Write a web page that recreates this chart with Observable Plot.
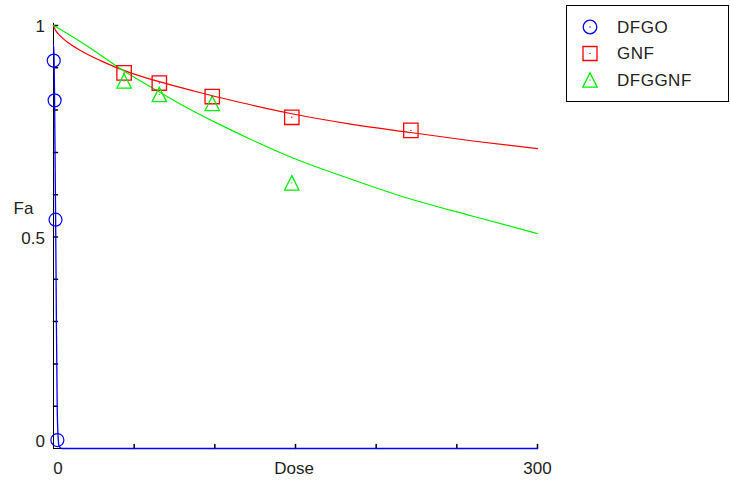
<!DOCTYPE html>
<html>
<head>
<meta charset="utf-8">
<script src="https://cdn.jsdelivr.net/npm/d3@7"></script>
<script src="https://cdn.jsdelivr.net/npm/@observablehq/plot@0.6"></script>
<style>
  body { margin: 0; background: #fff; }
  #chart { position: relative; width: 730px; height: 485px; }
  #legend { position: absolute; left: 566px; top: 5px; }
  svg text { font-family: "Liberation Sans", Arial, sans-serif; }
</style>
</head>
<body>
<div id="chart"></div>
<script>
// Observed data points (dose vs. fraction affected)
const dfgoDose = [0.15, 0.7, 1.25, 2.4];
const dfgoFa   = [0.917, 0.823, 0.541, 0.02];
const gnfDose  = [43.75, 65.6, 98.4, 147.7, 221.5];
const gnfFa    = [0.888, 0.864, 0.832, 0.783, 0.752];
const comboDose = [43.75, 65.6, 98.4, 147.7];
const comboFa   = [0.869, 0.837, 0.816, 0.628];

// Fitted dose-effect curves
const dfgoCurveDose = [0, 0.05, 0.3, 0.6, 1.0, 1.3, 1.8, 2.3, 2.8, 3.5, 5, 300];
const dfgoCurveFa   = [0.955, 0.955, 0.93, 0.85, 0.68, 0.55, 0.3, 0.1, 0.03, 0.005, 0, 0];
const gnfCurveDose = [0, 0.3, 1.2, 4.3, 8.5, 16.7, 29.1, 47.7, 69.4, 91.1, 115.9, 146.9, 184.1, 221.3, 260, 300];
const gnfCurveFa   = [1.0, 0.996, 0.989, 0.975, 0.961, 0.941, 0.917, 0.888, 0.863, 0.841, 0.818, 0.792, 0.767, 0.747, 0.727, 0.709];
const comboCurveDose = [0, 8.5, 25, 41.5, 60.1, 78.7, 103.5, 122.1, 146.9, 184.1, 215.1, 260, 300];
const comboCurveFa   = [1.0, 0.981, 0.941, 0.898, 0.855, 0.814, 0.765, 0.731, 0.689, 0.637, 0.597, 0.549, 0.508];

// Axis ticks and labels
const yTicks = [0.1, 0.2, 0.3, 0.4, 0.5, 0.6, 0.7, 0.8, 0.9, 1];
const xTicks = [50, 100, 150, 200, 250, 300];
const yLabels = [0.5, 1];
const seriesNames = ["DFGO", "GNF", "DFGGNF"];
const seriesColors = ["#0000ff", "#ff0000", "#00f000"];

const zip = (xs, ys) => xs.map((x, i) => ({x, y: ys[i]}));

// Marker shapes
const squareSym = {draw(ctx, size) {
  const r = Math.sqrt(size / Math.PI);
  ctx.moveTo(-r, -r); ctx.lineTo(r, -r); ctx.lineTo(r, r); ctx.lineTo(-r, r); ctx.closePath();
}};
const triSym = {draw(ctx, size) {
  const r = Math.sqrt(size / Math.PI);
  ctx.moveTo(0, -r); ctx.lineTo(r, r); ctx.lineTo(-r, r); ctx.closePath();
}};
const tickShape = {draw(ctx, l) { ctx.moveTo(0, 0); ctx.lineTo(0, -l); }};

const font = 17;

const chart = Plot.plot({
  width: 730,
  height: 485,
  marginLeft: 53,
  marginRight: 193,
  marginTop: 25,
  marginBottom: 37,
  x: {domain: [0, 300], axis: null},
  y: {domain: [0, 1], axis: null},
  style: {background: "#fff", fontFamily: "Liberation Sans, Arial, sans-serif", fontSize: "17px", color: "#000"},
  marks: [
    // axis lines
    Plot.ruleX([0], {y1: 0, y2: 1.005, stroke: "#000"}),
    Plot.ruleY([0], {x1: 0, x2: 300, stroke: "#000"}),
    // inward ticks
    Plot.vector(yTicks, {x: 0, y: d => d, length: 4, rotate: 90, anchor: "start", shape: tickShape, stroke: "#000"}),
    Plot.vector(xTicks, {x: d => d, y: 0, length: 4, rotate: 0, anchor: "start", shape: tickShape, stroke: "#000"}),
    // tick labels
    Plot.text(yLabels, {x: 0, y: d => d, text: d => String(d), textAnchor: "end", dx: -8.5, dy: 1.5, fontSize: font, fill: "#222"}),
    Plot.text([0], {x: 0, y: d => d, text: d => String(d), textAnchor: "end", dx: -8.5, dy: -7, fontSize: font, fill: "#222"}),
    Plot.text([0], {x: d => d, y: 0, text: d => String(d), dx: 4.5, dy: 20, fontSize: font, fill: "#222"}),
    Plot.text([300], {x: d => d, y: 0, text: d => String(d), dy: 20, fontSize: font, fill: "#222"}),
    // axis titles
    Plot.text(["Fa"], {frameAnchor: "left", text: d => d, textAnchor: "start", dx: -40, dy: -28.5, fontSize: font, fill: "#222"}),
    Plot.text(["Dose"], {frameAnchor: "bottom", text: d => d, dx: -1.5, dy: 25, fontSize: font, fill: "#222"}),
    // fitted curves
    Plot.line(zip(gnfCurveDose, gnfCurveFa), {x: "x", y: "y", stroke: seriesColors[1], strokeWidth: 1.2, curve: "monotone-x"}),
    Plot.line(zip(comboCurveDose, comboCurveFa), {x: "x", y: "y", stroke: seriesColors[2], strokeWidth: 1.2, curve: "monotone-x"}),
    Plot.line(zip(dfgoCurveDose, dfgoCurveFa), {x: "x", y: "y", stroke: seriesColors[0], strokeWidth: 1.3, curve: "monotone-x"}),
    // observed points
    Plot.dot(zip(dfgoDose, dfgoFa), {x: "x", y: "y", r: 6.5, stroke: seriesColors[0], strokeWidth: 1.2}),
    Plot.dot(zip(gnfDose, gnfFa), {x: "x", y: "y", r: 7.2, symbol: squareSym, stroke: seriesColors[1], strokeWidth: 1.3}),
    Plot.dot(zip(comboDose, comboFa), {x: "x", y: "y", r: 7.2, symbol: triSym, stroke: seriesColors[2], strokeWidth: 1.3}),
    Plot.dot(zip(gnfDose, gnfFa), {x: "x", y: "y", r: 0.7, fill: seriesColors[1], stroke: null}),
    Plot.dot(zip(comboDose, comboFa), {x: "x", y: "y", r: 0.7, fill: seriesColors[2], stroke: null})
  ]
});

const container = document.getElementById("chart");
container.appendChild(chart);

// Legend box
const legend = d3.create("svg")
  .attr("id", "legend")
  .attr("width", 164)
  .attr("height", 98);
legend.append("rect")
  .attr("x", 0.5).attr("y", 0.5).attr("width", 162).attr("height", 96)
  .attr("fill", "#fff").attr("stroke", "#000");
const legendSyms = [d3.symbolCircle, squareSym, triSym];
const legendR = [6.8, 7, 7.2];
seriesNames.forEach((name, i) => {
  const cy = 22 + i * 26.5;
  legend.append("path")
    .attr("transform", `translate(24,${cy})`)
    .attr("d", d3.symbol(legendSyms[i], legendR[i] * legendR[i] * Math.PI)())
    .attr("fill", "none")
    .attr("stroke", seriesColors[i])
    .attr("stroke-width", 1.3);
  legend.append("circle")
    .attr("cx", 24).attr("cy", cy).attr("r", 0.7)
    .attr("fill", seriesColors[i]);
  legend.append("text")
    .attr("x", 51).attr("y", cy)
    .attr("dy", "0.35em")
    .attr("font-size", font)
    .attr("fill", "#222")
    .attr("letter-spacing", "0.5px")
    .text(name);
});
container.appendChild(legend.node());
</script>
</body>
</html>
